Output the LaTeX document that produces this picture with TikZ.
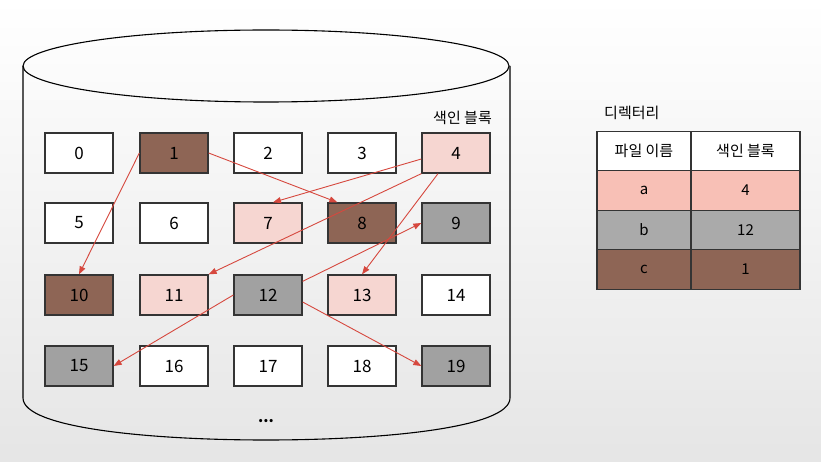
\documentclass[tikz,border=0pt]{standalone}
\usepackage{fontspec}
\setmainfont{Noto Sans CJK KR}
\usetikzlibrary{arrows.meta}
\definecolor{brownblk}{RGB}{142,101,85}
\definecolor{pinkblk}{RGB}{246,214,209}
\definecolor{grayblk}{RGB}{161,161,161}
\definecolor{pinkrow}{RGB}{248,192,182}
\definecolor{grayrow}{RGB}{170,170,170}
\definecolor{ptr}{RGB}{214,72,62}
\definecolor{edge}{RGB}{52,52,52}
\begin{document}
\begin{tikzpicture}[x=1pt, y=-1pt,
  blk/.style={draw=edge, line width=1.3pt, fill=white, minimum width=68pt,
    minimum height=40pt, inner sep=0pt, font=\fontsize{17}{17}\selectfont},
  ptrarrow/.style={draw=ptr, line width=0.9pt, -{Triangle[length=8pt,width=6pt]}},
  cell/.style={draw=edge, line width=1.3pt, minimum width=94pt, minimum height=39.5pt,
    inner sep=0pt, font=\fontsize{15}{15}\selectfont},
  widecell/.style={cell, minimum width=109pt}]
  % background, same size as the reference
  \shade[top color=white, bottom color=black!10] (0,0) rectangle (821,462);
  % Disk: top ellipse and body
  \draw[line width=1.1pt] (266,66) ellipse [x radius=243, y radius=36];
  \draw[line width=1.1pt] (23,66) -- (23,398)
    .. controls (23,428) and (150,440) .. (266,440)
    .. controls (382,440) and (510,428) .. (510,398) -- (510,66);
  \node[anchor=east, inner sep=0pt, font=\fontsize{15}{15}\selectfont] (idxlbl) at (492,118) {색인 블록};
  % Blocks, row by row
  \node[blk] (blk0) at (79,153) {0};
  \node[blk, fill=brownblk] (blk1) at (174,153) {1};
  \node[blk] (blk2) at (268,153) {2};
  \node[blk] (blk3) at (362,153) {3};
  \node[blk, fill=pinkblk] (blk4) at (456,153) {4};
  \node[blk] (blk5) at (79,223) {5};
  \node[blk] (blk6) at (174,223) {6};
  \node[blk, fill=pinkblk] (blk7) at (268,223) {7};
  \node[blk, fill=brownblk] (blk8) at (362,223) {8};
  \node[blk, fill=grayblk] (blk9) at (456,223) {9};
  \node[blk, fill=brownblk] (blk10) at (79,295) {10};
  \node[blk, fill=pinkblk] (blk11) at (174,295) {11};
  \node[blk, fill=grayblk] (blk12) at (268,295) {12};
  \node[blk, fill=pinkblk] (blk13) at (362,295) {13};
  \node[blk] (blk14) at (456,295) {14};
  \node[blk, fill=grayblk] (blk15) at (79,366) {15};
  \node[blk] (blk16) at (174,366) {16};
  \node[blk] (blk17) at (268,366) {17};
  \node[blk] (blk18) at (362,366) {18};
  \node[blk, fill=grayblk] (blk19) at (456,366) {19};
  \node[font=\fontsize{15}{15}\selectfont\bfseries] (more) at (266,421) {...};
  % Pointers out of the index blocks
  \draw[ptrarrow] (blk1.west) -- (blk10.north);
  \draw[ptrarrow] (blk1.east) -- ([xshift=10pt]blk8.north west);
  \draw[ptrarrow] ([yshift=-6pt]blk4.west) -- ([xshift=5pt]blk7.north);
  \draw[ptrarrow] (blk4.south west) -- (blk11.north east);
  \draw[ptrarrow] ([xshift=-18pt]blk4.south) -- (blk13.north);
  \draw[ptrarrow] ([yshift=-7pt]blk12.north east) -- (blk9.west);
  \draw[ptrarrow] (blk12.west) -- (blk15.east);
  \draw[ptrarrow] ([yshift=-7pt]blk12.east) -- (blk19.west);
  % Directory table
  \node[anchor=west, inner sep=0pt, font=\fontsize{15}{15}\selectfont] (dirlbl) at (604,113) {디렉터리};
  \node[cell, fill=white] (hname) at (644,151) {파일 이름};
  \node[widecell, fill=white] (hidx) at (745.5,151) {색인 블록};
  \node[cell, fill=pinkrow] (fa) at (644,190.5) {a};
  \node[widecell, fill=pinkrow] (ia) at (745.5,190.5) {4};
  \node[cell, fill=grayrow] (fb) at (644,230) {b};
  \node[widecell, fill=grayrow] (ib) at (745.5,230) {12};
  \node[cell, fill=brownblk] (fc) at (644,269.5) {c};
  \node[widecell, fill=brownblk] (ic) at (745.5,269.5) {1};
\end{tikzpicture}
\end{document}
